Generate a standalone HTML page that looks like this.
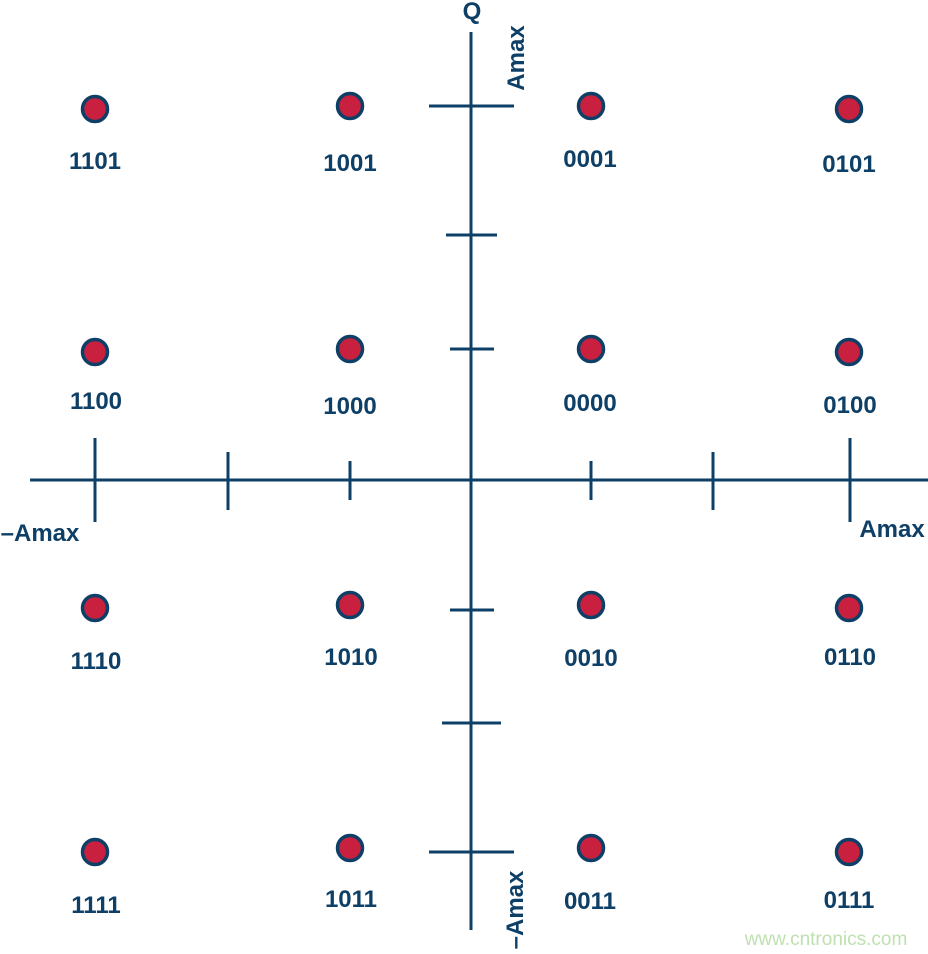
<!DOCTYPE html>
<html><head><meta charset="utf-8"><style>
html,body{margin:0;padding:0;background:#fff}
svg{display:block}
text{font-family:"Liberation Sans",Arial,sans-serif;font-weight:bold;fill:#0e3f66}
</style></head><body>
<svg width="928" height="954" viewBox="0 0 928 954" xmlns="http://www.w3.org/2000/svg">
<g stroke="#0e3f66" stroke-width="3" fill="none">
<line x1="30" y1="480" x2="928" y2="480"/>
<line x1="471" y1="32" x2="471" y2="930"/>
<line x1="95" y1="438" x2="95" y2="522"/>
<line x1="228" y1="452" x2="228" y2="510"/>
<line x1="350" y1="461" x2="350" y2="500"/>
<line x1="591" y1="461" x2="591" y2="500"/>
<line x1="713" y1="452" x2="713" y2="510"/>
<line x1="850" y1="438" x2="850" y2="522"/>
<line x1="429" y1="106" x2="514" y2="106"/>
<line x1="446" y1="235" x2="497" y2="235"/>
<line x1="450" y1="349" x2="494" y2="349"/>
<line x1="450" y1="610" x2="494" y2="610"/>
<line x1="442" y1="723" x2="501" y2="723"/>
<line x1="429" y1="852" x2="514" y2="852"/>
</g>
<g fill="#c8203e" stroke="#0e3f66" stroke-width="3.5">
<circle cx="95" cy="109" r="12.5"/><circle cx="350" cy="106" r="12.5"/><circle cx="591" cy="106" r="12.5"/><circle cx="849" cy="109" r="12.5"/>
<circle cx="95" cy="352" r="12.5"/><circle cx="350" cy="349" r="12.5"/><circle cx="591" cy="349" r="12.5"/><circle cx="849" cy="352" r="12.5"/>
<circle cx="95" cy="608" r="12.5"/><circle cx="350" cy="605" r="12.5"/><circle cx="591" cy="605" r="12.5"/><circle cx="849" cy="608" r="12.5"/>
<circle cx="95" cy="852" r="12.5"/><circle cx="350" cy="848" r="12.5"/><circle cx="591" cy="848" r="12.5"/><circle cx="849" cy="852" r="12.5"/>
</g>
<g font-size="24" text-anchor="middle">
<text x="95" y="169">1101</text><text x="350" y="171">1001</text><text x="590" y="167">0001</text><text x="849" y="172">0101</text>
<text x="96" y="409">1100</text><text x="350" y="414">1000</text><text x="590" y="411">0000</text><text x="850" y="413">0100</text>
<text x="96" y="669">1110</text><text x="351" y="665">1010</text><text x="591" y="666">0010</text><text x="850" y="665">0110</text>
<text x="96" y="913">1111</text><text x="351" y="907">1011</text><text x="590" y="909">0011</text><text x="849" y="908">0111</text>
<text x="472" y="19">Q</text>
<text x="892" y="537">Amax</text>
<text x="40" y="541">–Amax</text>
<text transform="translate(524,58) rotate(-90)">Amax</text>
<text transform="translate(523,910) rotate(-90)">–Amax</text>
</g>
<text x="826" y="945" font-size="19" text-anchor="middle" style="font-weight:normal;fill:#bfe0b0">www.cntronics.com</text>
</svg>
</body></html>
